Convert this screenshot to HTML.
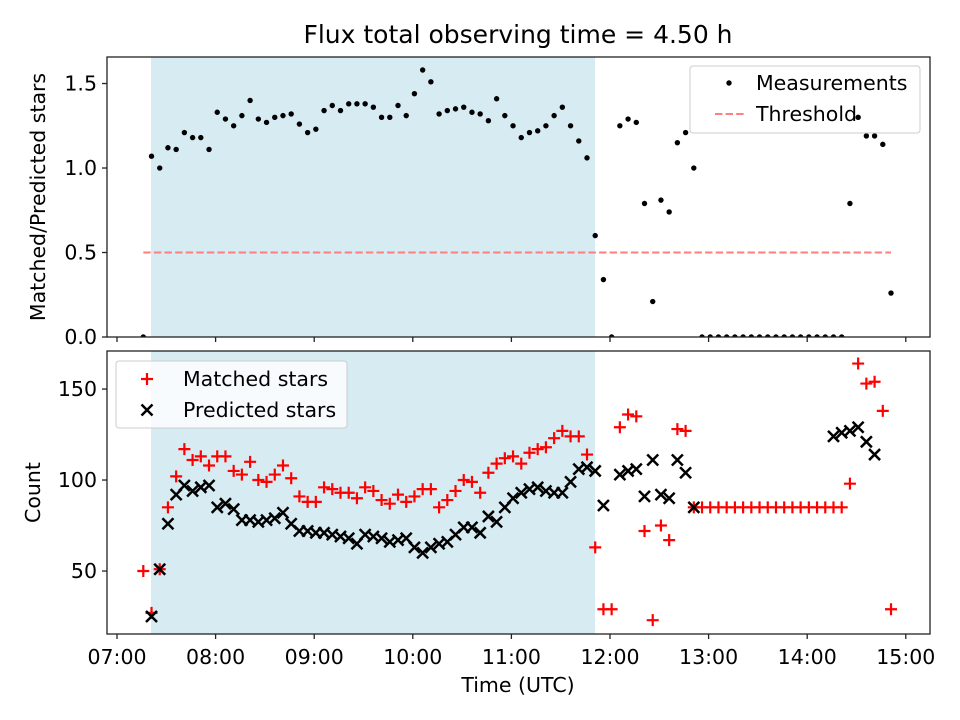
<!DOCTYPE html>
<html><head><meta charset="utf-8"><style>
body{margin:0;background:#fff;}
svg{display:block;font-family:"DejaVu Sans","Liberation Sans",sans-serif;}
</style></head><body>
<svg id="chart" width="960" height="720" viewBox="0 0 960 720" xmlns="http://www.w3.org/2000/svg"></svg>
<script>
// minutes after 07:00 of each measurement: 16 + 5*k
const timeIndex = [];
for (let k = 0; k <= 91; k++) timeIndex.push(k);
const ratioValues = [0,1.07,1.00,1.12,1.11,1.21,1.18,1.18,1.11,1.33,1.29,1.25,1.31,1.40,1.29,1.27,1.30,1.31,1.32,1.26,1.21,1.23,1.34,1.37,1.34,1.38,1.38,1.38,1.36,1.30,1.30,1.37,1.31,1.44,1.58,1.51,1.32,1.34,1.35,1.36,1.33,1.32,1.28,1.41,1.31,1.25,1.18,1.21,1.22,1.25,1.31,1.36,1.25,1.16,1.06,0.60,0.34,0,1.25,1.29,1.27,0.79,0.21,0.81,0.74,1.15,1.21,1.00,0,0,0,0,0,0,0,0,0,0,0,0,0,0,0,0,0,0,0.79,1.30,1.19,1.19,1.14,0.26];
const matchedValues = [50,27,51,85,102,117,111,113,108,113,113,105,103,110,100,99,103,108,101,91,88,88,96,95,93,93,90,96,94,89,87,92,88,91,95,95,85,89,94,100,99,93,104,109,112,113,109,115,117,118,123,127,124,124,114,63,29,29,129,136,135,72,23,75,67,128,127,85,85,85,85,85,85,85,85,85,85,85,85,85,85,85,85,85,85,85,98,164,153,154,138,29];
const predictedValues = [null,25,51,76,92,97,94,96,97,85,87,84,78,78,77,78,79,82,76,72,72,71,71,70,69,68,65,70,69,68,66,67,68,63,60,63,65,66,70,74,74,71,80,77,85,90,93,95,96,94,93,93,99,106,107,105,86,null,103,105,106,91,111,92,90,111,104,85,null,null,null,null,null,null,null,null,null,null,null,null,null,null,null,null,124,126,127,129,121,114];
const xTickLabels = ["07:00","08:00","09:00","10:00","11:00","12:00","13:00","14:00","15:00"];
const topYTicks = [0.0,0.5,1.0,1.5];
const botYTicks = [50,100,150];
const spanMinutes = [20.7, 290.9];
const threshold = [0.5];

const NS = "http://www.w3.org/2000/svg";
const svg = document.getElementById("chart");
function el(tag, attrs, parent){const e=document.createElementNS(NS,tag);for(const k in attrs)e.setAttribute(k,attrs[k]);(parent||svg).appendChild(e);return e;}
const FS="20.5";
const L=107,R=930;
const X = m => 117 + 98.6*(m/60);
const minutes = k => 16 + 5*k;
const T={top:57,bot:337,min:0,max:1.657};
const B={top:351,bot:634,min:15.4,max:170.9};
const Yt = v => T.bot - (v-T.min)/(T.max-T.min)*(T.bot-T.top);
const Yb = v => B.bot - (v-B.min)/(B.max-B.min)*(B.bot-B.top);

const defs=el("defs",{});
const c1=el("clipPath",{id:"ct"},defs); el("rect",{x:L,y:T.top,width:R-L,height:T.bot-T.top},c1);
const c2=el("clipPath",{id:"cb"},defs); el("rect",{x:L,y:B.top,width:R-L,height:B.bot-B.top},c2);

let t=el("text",{x:518,y:43,"text-anchor":"middle","font-size":"25"}); t.textContent="Flux total observing time = 4.50 h";



// ---- top panel
const gt=el("g",{"clip-path":"url(#ct)"});


let s1=el("rect",{x:X(spanMinutes[0]),y:T.top,width:X(spanMinutes[1])-X(spanMinutes[0]),height:T.bot-T.top,fill:"#add8e6","fill-opacity":"0.5"},gt);


let th=el("line",{x1:X(minutes(0)),x2:X(minutes(91)),y1:Yt(threshold[0]),y2:Yt(threshold[0]),stroke:"#ff7f7f","stroke-width":"2","stroke-dasharray":"7.4,3.2"},gt);


timeIndex.forEach((k,i)=>{
  const v=ratioValues[i]; if(v==null) return;
  const c=el("circle",{cx:X(minutes(k)),cy:Yt(v),r:2.7,fill:"#000"},gt);
  
  
});
let f1=el("rect",{x:L,y:T.top,width:R-L,height:T.bot-T.top,fill:"none",stroke:"#222","stroke-width":"1.3"});


topYTicks.forEach(v=>{
  const y=Yt(v);
  el("line",{x1:L-5,x2:L,y1:y,y2:y,stroke:"#222","stroke-width":"1.3"});
  const tx=el("text",{x:L-10,y:y+7,"text-anchor":"end","font-size":FS}); tx.textContent=v.toFixed(1);
  
  
});
xTickLabels.forEach((s,i)=>{ const x=X(i*60); el("line",{x1:x,x2:x,y1:T.bot,y2:T.bot+5,stroke:"#222","stroke-width":"1.3"}); });
let yl1=el("text",{x:0,y:0,"text-anchor":"middle","font-size":FS,transform:`translate(45,${(T.top+T.bot)/2}) rotate(-90)`}); yl1.textContent="Matched/Predicted stars";


const lg1=el("g",{});


el("rect",{x:690,y:66,width:230,height:67,rx:3,fill:"#fff","fill-opacity":"0.8",stroke:"#ccc"},lg1);
el("circle",{cx:729,cy:83,r:2.7,fill:"#000"},lg1);
let lt=el("text",{x:756,y:90,"font-size":FS},lg1); lt.textContent="Measurements";
el("line",{x1:715,x2:745,y1:114,y2:114,stroke:"#ff7f7f","stroke-width":"2","stroke-dasharray":"7.4,3.2"},lg1);
lt=el("text",{x:756,y:121,"font-size":FS},lg1); lt.textContent="Threshold";
el("circle",{cx:X(minutes(87)),cy:Yt(ratioValues[87]),r:2.7,fill:"#000"});

// ---- bottom panel
const gb=el("g",{"clip-path":"url(#cb)"});


let s2=el("rect",{x:X(spanMinutes[0]),y:B.top,width:X(spanMinutes[1])-X(spanMinutes[0]),height:B.bot-B.top,fill:"#add8e6","fill-opacity":"0.5"},gb);


const a=6;
timeIndex.forEach((k,i)=>{
  const v=matchedValues[i]; if(v==null) return;
  const x=X(minutes(k)), y=Yb(v);
  const p=el("path",{d:`M${x-a} ${y}H${x+a}M${x} ${y-a}V${y+a}`,stroke:"#ff0000","stroke-width":"2.2",fill:"none"},gb);
  
  
});
timeIndex.forEach((k,i)=>{
  const v=predictedValues[i]; if(v==null) return;
  const x=X(minutes(k)), y=Yb(v), b=5.5;
  const p=el("path",{d:`M${x-b} ${y-b}L${x+b} ${y+b}M${x-b} ${y+b}L${x+b} ${y-b}`,stroke:"#000","stroke-width":"2.5",fill:"none"},gb);
  
  
});
let f2=el("rect",{x:L,y:B.top,width:R-L,height:B.bot-B.top,fill:"none",stroke:"#222","stroke-width":"1.3"});


botYTicks.forEach(v=>{
  const y=Yb(v);
  el("line",{x1:L-5,x2:L,y1:y,y2:y,stroke:"#222","stroke-width":"1.3"});
  const tx=el("text",{x:L-10,y:y+7,"text-anchor":"end","font-size":FS}); tx.textContent=String(v);
  
  
});
xTickLabels.forEach((s,i)=>{
  const x=X(i*60);
  el("line",{x1:x,x2:x,y1:B.bot,y2:B.bot+5,stroke:"#222","stroke-width":"1.3"});
  const tx=el("text",{x:x,y:B.bot+30,"text-anchor":"middle","font-size":FS}); tx.textContent=s;
  
  
});
let xl=el("text",{x:518,y:692,"text-anchor":"middle","font-size":FS}); xl.textContent="Time (UTC)";


let yl2=el("text",{x:0,y:0,"text-anchor":"middle","font-size":FS,transform:`translate(40,${(B.top+B.bot)/2}) rotate(-90)`}); yl2.textContent="Count";


const lg2=el("g",{});


el("rect",{x:116,y:361,width:231,height:67,rx:3,fill:"#fff","fill-opacity":"0.8",stroke:"#ccc"},lg2);
el("path",{d:"M141 379H153M147 373V385",stroke:"#ff0000","stroke-width":"2.2"},lg2);
lt=el("text",{x:183,y:386,"font-size":FS},lg2); lt.textContent="Matched stars";
el("path",{d:"M141.5 404.5L152.5 415.5M141.5 415.5L152.5 404.5",stroke:"#000","stroke-width":"2.5"},lg2);
lt=el("text",{x:183,y:417,"font-size":FS},lg2); lt.textContent="Predicted stars";
</script>
</body></html>
